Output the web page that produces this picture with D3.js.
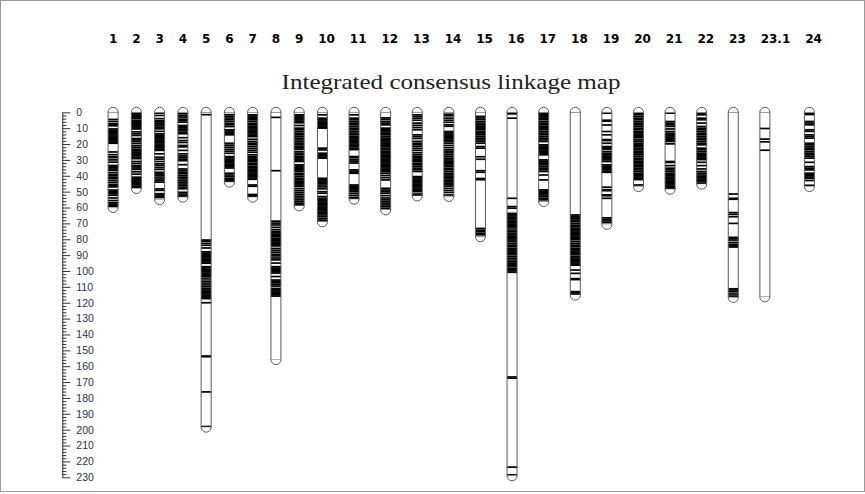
<!DOCTYPE html>
<html>
<head>
<meta charset="utf-8">
<script src="https://cdn.jsdelivr.net/npm/d3@7"></script>
<style>
  body { margin: 0; background: #fff; }
  svg { display: block; }
</style>
</head>
<body>
<svg id="chart" width="865" height="494"></svg>
<script>
// Linkage groups and their lengths (cM)
const chromosomes = ["1","2","3","4","5","6","7","8","9","10","11","12","13","14","15","16","17","18","19","20","21","22","23","23.1","24"];
const lengths = [60, 48, 55, 53.5, 198.4, 44, 53.5, 155.8, 59, 69, 54.8, 61.5, 52.7, 53, 78.4, 229, 56.3, 115.2, 70.6, 46.8, 48.5, 45.3, 116.7, 116.3, 46.8];

// Marker positions (cM) per linkage group
const m1 = [4.5, 5.8, 7.2, 7.8, 8.5, 10.5, 11.3, 12, 12.8, 13.5, 14.3, 15, 15.8, 16.5, 17.3, 18, 18.8, 19.5, 25, 26.7, 28, 28.6, 30, 31.4, 33.5, 34.3, 35, 35.8, 36.6, 38, 39.2, 40, 41, 41.8, 43, 44.2, 45.5, 46.2, 47, 49, 49.8, 50.6, 51.4, 52.3, 54, 55.6, 57, 57.8, 58.6, 59.4];
const m2 = [0.3, 1, 1.7, 2.4, 3.1, 3.8, 5, 5.7, 6.4, 7.1, 7.8, 8.5, 9.2, 9.9, 10.5, 12.3, 13.5, 14.6, 16.5, 17.3, 18.2, 19.5, 20.9, 22, 23.2, 24.3, 25.1, 25.9, 26.7, 27.5, 28.3, 29.2, 31, 32.2, 33.5, 34.3, 35.1, 36, 37.5, 39, 40.9, 41.7, 42.5, 43.3, 44.1, 44.9, 45.7, 46.5, 47.3];
const m3 = [0.5, 2, 4, 5.3, 6, 6.8, 7.4, 8.5, 9.5, 10.4, 12, 13.6, 14.4, 15.2, 16, 16.8, 17.6, 18.4, 19.2, 20, 20.8, 21.6, 22.4, 23.2, 24, 26.2, 28.3, 29.5, 31, 32.5, 33.5, 34.8, 36, 37.8, 38.8, 39.6, 40.8, 42, 43, 44, 48.3, 49.2, 51.3, 52.1, 52.9, 53.7];
const m4 = [0.9, 2, 3, 4.3, 5.2, 6.2, 8.3, 9, 9.8, 10.6, 11.4, 12.5, 13.5, 16, 17.8, 19, 20.9, 21.8, 24, 26.2, 27.5, 28.5, 29.5, 30.5, 33, 35.7, 36.8, 37.8, 38.8, 40, 41, 42, 43.2, 44.2, 45.2, 46.2, 47.2, 48.2, 50.4, 51.5, 52.5, 53.3];
const m5 = [1.5, 80.5, 81.3, 82.6, 83.8, 85.5, 87.9, 88.7, 89.5, 90.3, 91.1, 91.9, 92.7, 93.5, 94.3, 95.1, 97.3, 98.1, 98.9, 99.7, 100.5, 101.3, 102.1, 102.9, 103.7, 105, 106.4, 107.6, 108.8, 110, 111.2, 112, 112.8, 113.6, 114.4, 115.2, 116, 116.8, 117.4, 120, 153.6, 154, 176.2, 198];
const m6 = [1.5, 2.5, 3.6, 4.7, 5.8, 7, 7.9, 9, 11, 11.8, 12.6, 13.4, 14.2, 19.5, 20.7, 22, 23.3, 24.5, 25.8, 27.9, 28.7, 29.5, 30.3, 31.1, 31.9, 32.7, 33.5, 34.3, 35.1, 38.4, 39.5, 40.5, 41.6, 42.4, 43.2, 43.8];
const m7 = [1.6, 2.4, 3.2, 4, 4.7, 5.8, 7, 7.9, 8.9, 9.7, 10.5, 11.3, 12.1, 12.9, 13.7, 14.5, 15.3, 17, 18.4, 19.5, 20.4, 21.6, 22.8, 24, 25.2, 26.8, 27.9, 28.7, 29.5, 30.2, 31, 32.1, 33.1, 34.2, 35, 35.8, 36.6, 37.4, 38.2, 39, 39.8, 40.6, 41.4, 42.2, 45.8, 46.6, 51.8, 52.5, 53.2];
const m8 = [3.2, 36.8, 68.6, 69.8, 71, 72.5, 74, 75.2, 76, 76.8, 77.6, 78.4, 79.4, 80.2, 81, 81.8, 82.6, 83.4, 84.2, 85.8, 87, 88.2, 89.5, 90.5, 91.8, 93, 95, 97.3, 98.1, 98.9, 99.7, 100.5, 101.3, 103.5, 105.7, 106.5, 107.5, 108.5, 109.5, 111, 111.8, 112.6, 113.4, 114.2, 115, 115.8];
const m9 = [1.6, 2.4, 3.2, 4, 4.8, 5.6, 6.6, 8.3, 10, 11, 12.1, 13.2, 14.2, 15.2, 16.3, 17.4, 18.5, 19.5, 20.5, 21.6, 22.4, 23.2, 24.7, 25.7, 26.8, 27.9, 28.7, 29.5, 30.3, 31, 33.1, 33.9, 34.7, 35.5, 36.3, 37.1, 38.4, 39.4, 40.5, 41.6, 42.6, 43.4, 44.2, 45, 45.8, 46.6, 48, 49.2, 50.4, 51.6, 52.8, 54, 55.2, 56.3, 57.3, 58.3];
const m10 = [1.6, 3.7, 4.7, 5.5, 6.3, 7.1, 7.9, 8.7, 9.5, 10, 22.6, 23.7, 25.8, 26.6, 27.4, 28.2, 28.9, 41.6, 42.4, 43.2, 44, 44.7, 45.8, 47, 48.2, 50, 51, 53.1, 54.2, 55, 55.8, 56.6, 57.4, 58.2, 59, 59.8, 60.6, 61.4, 62.2, 63, 63.7, 64.7, 65.7, 66.8, 67.9, 68.7];
const m11 = [1.6, 3.7, 4.7, 5.8, 6.8, 7.8, 8.9, 10, 11, 12.1, 13.1, 14.2, 15.3, 16, 16.8, 17.6, 18.4, 19.2, 20, 20.8, 21.6, 22.6, 23.5, 27.9, 28.7, 30, 31, 32, 36.3, 37, 37.7, 38.4, 45.8, 46.6, 47.4, 48.2, 49, 49.8, 51, 52.3, 53.6, 54.6];
const m12 = [3.5, 4.5, 5.8, 6.8, 7.9, 10, 10.8, 11.6, 12.4, 13.2, 14.2, 15.3, 16.3, 17.1, 17.9, 18.7, 19.5, 20.3, 21.1, 21.6, 22.6, 23.7, 24.7, 25.5, 26.3, 27.1, 27.9, 28.7, 29.5, 30.3, 31.1, 31.9, 32.7, 33.5, 34.3, 35.1, 35.9, 36.7, 37.3, 38.4, 39.8, 41.2, 42.6, 47.9, 49, 50, 51, 52.5, 54, 55.2, 56.3, 57.3, 58.4, 59.4, 60.5];
const m13 = [1.6, 2.6, 3.7, 5, 6.8, 8.2, 9.6, 11, 14.2, 15.3, 16.5, 18.3, 19.5, 20.5, 21.6, 22.8, 24, 25.5, 26.8, 27.9, 28.7, 29.5, 30.3, 31, 32.1, 33.1, 34.1, 35.2, 36.2, 37.3, 40.5, 41.3, 42.1, 42.9, 43.7, 44.5, 45.3, 46.1, 46.9, 47.7, 48.5, 49.2, 50, 51.5, 52.5];
const m14 = [1.2, 2.2, 3.7, 5, 6.3, 7.9, 8.8, 12.1, 12.9, 13.7, 14.5, 15.3, 16.1, 16.9, 17.7, 18.4, 19.5, 20.9, 22.3, 23.7, 24.7, 25.6, 26.8, 27.9, 28.9, 30, 30.8, 31.6, 32.4, 33.2, 34, 35.2, 36.2, 37.3, 38.4, 39.3, 40.2, 41.1, 42, 42.9, 43.8, 44.7, 45.6, 46.5, 47.9, 49.2, 50.5, 52.1];
const m15 = [2.6, 3.6, 4.6, 5.8, 6.8, 7.9, 8.7, 9.5, 10.3, 11, 12.1, 12.9, 13.6, 14.2, 15.3, 16.3, 17.4, 18.4, 19.5, 21.6, 22.6, 28, 29.6, 36.8, 37.8, 41.7, 42.5, 73.2, 74.3, 75.2, 76.3, 77.2];
const m16 = [0.3, 1, 3.7, 54.2, 59.4, 60.4, 63.7, 64.5, 65.3, 66.1, 67, 67.9, 68.9, 69.7, 70.5, 71.3, 72.1, 72.9, 74.2, 75.3, 76.3, 77.3, 78.1, 78.9, 79.7, 80.5, 81.5, 82.6, 83.7, 84.7, 85.8, 86.6, 87.4, 88.2, 89, 89.8, 91, 92, 93.1, 94.2, 95, 95.8, 96.6, 97.3, 98.4, 99.2, 100, 100.8, 166.8, 167.5, 223.6, 228.5];
const m17 = [0.5, 1.3, 2.1, 2.9, 3.7, 4.6, 5.8, 6.8, 7.9, 8.9, 9.7, 10.5, 11, 12.1, 13.1, 14.2, 15.3, 16.3, 17.4, 18.4, 20.5, 21.3, 22.1, 22.9, 23.7, 24.5, 25.3, 26.1, 26.8, 30, 30.8, 31.6, 32.4, 33.1, 34.2, 35.2, 36.3, 37.3, 39.5, 42.6, 48.9, 49.7, 50.5, 51.3, 52.1, 53.1, 54.2, 55.2];
const m18 = [64.7, 65.5, 66.3, 67.1, 67.9, 68.9, 70, 71.1, 72.1, 73.1, 73.9, 74.7, 75.5, 76.3, 77.1, 77.9, 78.7, 79.5, 80.3, 81.5, 82.6, 83.7, 84.7, 85.8, 86.6, 87.4, 88.2, 89, 89.8, 91, 91.8, 92.6, 93.4, 94.2, 95, 95.8, 96.3, 99.4, 101.5, 104.8, 105.4, 113, 113.8, 114.5];
const m19 = [0.5, 5, 5.6, 8, 12.1, 14.2, 17.2, 17.8, 19.5, 21.6, 22.4, 23.2, 24.7, 25.8, 26.8, 27.6, 28.4, 29.2, 30, 31, 33.1, 33.9, 34.7, 35.5, 36.3, 37.1, 37.8, 47.2, 48.8, 49.4, 52, 52.6, 54.2, 66.5, 67.5, 68.5, 69.5];
const m20 = [0.5, 1.5, 2.6, 3.7, 4.7, 5.8, 6.8, 7.9, 8.9, 10, 11, 12.1, 12.9, 13.7, 14.5, 15.3, 16.1, 17.4, 18.4, 19.5, 20.3, 21.1, 21.6, 22.6, 23.7, 24.7, 25.5, 26.3, 26.8, 27.9, 29, 30, 31, 31.8, 32.6, 33.4, 34.2, 35.2, 36.3, 37.3, 38.4, 39.2, 40, 40.8, 41.6, 42.4, 45.8];
const m21 = [0.5, 5.8, 6.8, 7.9, 8.9, 10.5, 12.1, 13.2, 14, 14.8, 15.6, 16.4, 17.2, 18, 18.4, 19.9, 31, 31.6, 33.6, 35.2, 36.3, 37.3, 38.4, 39.2, 40, 40.8, 41.6, 42.6, 43.4, 44.2, 45, 45.8, 46.6, 47.6, 48.2];
const m22 = [0.5, 1.6, 3.7, 4.7, 6.8, 8.9, 10, 11, 12.1, 13.2, 14.2, 15.3, 16.3, 17.3, 18.4, 19.5, 20.5, 22.6, 23.6, 24.7, 25.8, 26.6, 27.4, 28.2, 29, 29.8, 31.5, 33.6, 35.7, 37.3, 38.4, 39.5, 40.5, 41.3, 42.1, 42.9, 43.7, 44.7];
const m23 = [51.5, 54.2, 54.8, 63.2, 64.3, 65.8, 70, 78.8, 79.6, 80.5, 82, 83.2, 84.1, 84.9, 111.2, 112, 113.1, 114.5, 115.8];
const m23_1 = [10.2, 16.9, 18.6, 23.9];
const m24 = [0.6, 1.4, 5.8, 6.8, 7.9, 11, 12, 14.2, 15.2, 16.3, 19.5, 20.5, 21.6, 22.6, 23.6, 24.8, 25.8, 26.8, 27.8, 28.9, 31.5, 34.2, 35.2, 36.3, 38.4, 39.2, 40, 40.8, 41.6, 43, 46];

const markerSets = [m1, m2, m3, m4, m5, m6, m7, m8, m9, m10, m11, m12, m13, m14, m15, m16, m17, m18, m19, m20, m21, m22, m23, m23_1, m24];

// Scale ruler labels (cM)
const rulerLabels = [0, 10, 20, 30, 40, 50, 60, 70, 80, 90, 100, 110, 120, 130, 140, 150, 160, 170, 180, 190, 200, 210, 220, 230];
const rulerMinorStep = 2;

const title = "Integrated consensus linkage map";

const svg = d3.select("#chart");
const W = 865, H = 494;
const barW = 10;

// frame
svg.append("rect")
  .attr("x", 0.5).attr("y", 0.5).attr("width", W - 1).attr("height", H - 3)
  .attr("fill", "none").attr("stroke", "#9a9a9a").attr("stroke-width", 1);

const y = d3.scaleLinear().domain([0, 230]).range([112.3, 477.3]);

// group labels along the top; spacing follows each label's width
const labelG = svg.append("g");
const labels = labelG.selectAll("text").data(chromosomes).join("text")
  .attr("font-family", "'DejaVu Sans', Verdana, sans-serif")
  .attr("font-weight", "bold")
  .attr("font-size", 12)
  .attr("fill", "#000")
  .attr("y", 43)
  .text(d => d);

const gap = 14.9;
const starts = [];
let cursor = 108.9;
labels.nodes().forEach(n => { starts.push(cursor); cursor += n.getComputedTextLength() + gap; });
labels.attr("x", (d, i) => starts[i]);

const x = d3.scaleOrdinal().domain(chromosomes).range(starts.map(s => s + 4.2));

// title
const titleX = 451, titleY = 89.3;
svg.append("text")
  .attr("transform", `translate(${titleX},${titleY}) scale(1.15,1)`)
  .attr("text-anchor", "middle")
  .attr("font-family", "'Liberation Serif', 'Times New Roman', serif")
  .attr("font-size", 21.8)
  .attr("fill", "#222")
  .text(title);

// ruler
const minorTicks = d3.range(0, 231, rulerMinorStep).filter(v => v % 10 !== 0);
const axisX = 62.3;
svg.append("g")
  .attr("transform", `translate(${axisX},0)`)
  .call(d3.axisRight(y).tickValues(minorTicks).tickSize(4).tickFormat(""))
  .call(g => g.select(".domain").remove())
  .call(g => g.selectAll("line").attr("stroke", "#333"));
const major = svg.append("g")
  .attr("transform", `translate(${axisX},0)`)
  .call(d3.axisRight(y).tickValues(rulerLabels).tickSize(8).tickSizeOuter(0).tickPadding(6));
major.select(".domain").attr("stroke", "#333");
major.selectAll("line").attr("stroke", "#333");
major.selectAll("text")
  .attr("font-family", "'Liberation Sans', Arial, sans-serif")
  .attr("font-size", 10.5)
  .attr("fill", "#27344a");

// linkage groups
const data = chromosomes.map((c, i) => ({ name: c, len: lengths[i], markers: markerSets[i] }));
const r = barW / 2;
const groups = svg.append("g").selectAll("g").data(data).join("g")
  .attr("transform", d => `translate(${x(d.name)},0)`);

// body
groups.append("rect")
  .attr("x", -r).attr("y", y(0))
  .attr("width", barW).attr("height", d => y(d.len) - y(0))
  .attr("fill", "#fff");

// markers
groups.each(function (d) {
  d3.select(this).selectAll("line.mk").data(d.markers).join("line")
    .attr("class", "mk")
    .attr("x1", -r).attr("x2", r)
    .attr("y1", m => y(m)).attr("y2", m => y(m))
    .attr("stroke", "#000").attr("stroke-width", 1.7);
});

// outline and rounded ends
groups.append("rect")
  .attr("x", -r).attr("y", y(0))
  .attr("width", barW).attr("height", d => y(d.len) - y(0))
  .attr("fill", "none").attr("stroke", "#5a5a5a").attr("stroke-width", 1);
groups.append("path")
  .attr("d", `M${-r},${y(0)} A${r},${r} 0 0 1 ${r},${y(0)}`)
  .attr("fill", "#fff").attr("stroke", "#5a5a5a").attr("stroke-width", 1);
groups.append("path")
  .attr("d", d => `M${-r},${y(d.len)} A${r},${r} 0 0 0 ${r},${y(d.len)}`)
  .attr("fill", "#fff").attr("stroke", "#5a5a5a").attr("stroke-width", 1);
</script>
</body>
</html>
